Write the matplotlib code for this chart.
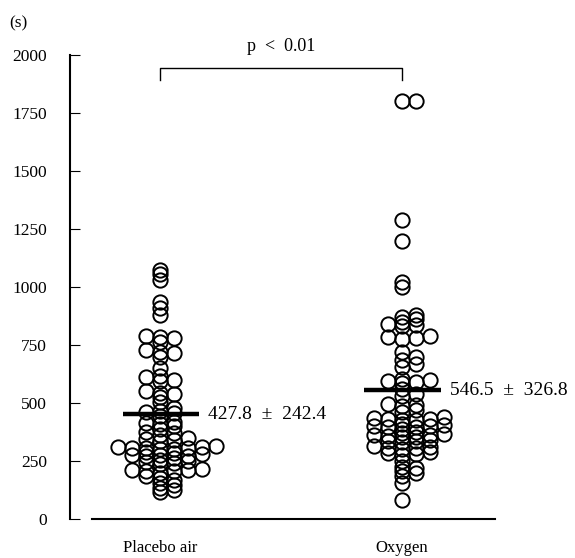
import matplotlib.pyplot as plt
import numpy as np

# Values (s)
groups = ['Placebo air', 'Oxygen']
placebo = [1075, 1055, 1030,
           935, 910, 880,
           790, 785, 780, 765,
           730, 720, 715, 700,
           650, 615, 610, 600, 595,
           550, 545, 540, 525, 505,
           480, 465, 460, 455, 445,
           420, 415, 410, 400, 390,
           375, 370, 360, 350, 345, 340, 335,
           315, 312, 310, 308, 305, 305, 303, 300,
           290, 285, 280, 278, 275, 272, 270, 265,
           255, 250, 245, 240, 235,
           215, 212, 210, 208, 205, 200,
           185, 178, 170,
           155, 145, 135, 125, 115]
oxygen = [1800, 1800,
          1290, 1200,
          1020, 1000,
          880, 870, 860, 850, 840, 835, 830,
          790, 785, 780, 775,
          720, 700, 685, 670, 655,
          605, 600, 595, 590, 585,
          560, 540, 530,
          495, 490, 485, 470, 460,
          440, 435, 432, 430, 428, 425,
          410, 405, 402, 400, 398, 395, 390,
          375, 370, 365, 362, 360, 358, 355, 352,
          340, 338, 335, 330,
          315, 310, 308, 305, 300,
          290, 285, 280, 275,
          250, 225, 220, 205, 200,
          185, 155, 80]
mean_line = [452, 556]
mean_text = ['427.8  \u00b1  242.4', '546.5  \u00b1  326.8']
p_text = 'p  <  0.01'


def swarm(values, px_per_y=0.232, px_per_x=242.0, step=14.0, gap=4.0):
    # simple beeswarm: slots 0, +1, -1, +2, -2 ... step px apart
    placed = {}
    seq = [0]
    for n in range(1, 10):
        seq += [n, -n]
    out = np.zeros(len(values))
    for i in np.argsort(values):
        y = values[i] * px_per_y
        for k in seq:
            if all(abs(y - yy) >= gap for yy in placed.get(k, [])):
                break
        placed.setdefault(k, []).append(y)
        out[i] = k * step / px_per_x
    return out


plt.rcParams['font.family'] = ['Liberation Serif', 'DejaVu Serif']
fig = plt.figure(figsize=(5.75, 5.58), dpi=100)
ax = fig.add_axes([70 / 575, 39 / 558, 505 / 575, 464 / 558])

for i, vals in enumerate([placebo, oxygen]):
    off = swarm(vals)
    ax.plot(i + off, vals, 'o', ms=10.3, mfc='none', mec='black', mew=1.4,
            linestyle='none', clip_on=False)
    ax.plot([i - 0.155, i + 0.16], [mean_line[i]] * 2, color='black', lw=3.2,
            solid_capstyle='butt')
    ax.text(i + 0.198, mean_line[i], mean_text[i], fontsize=14,
            va='center', ha='left')

# significance bracket
ax.plot([0, 0, 1, 1], [1892, 1944, 1944, 1892], color='black', lw=1,
        clip_on=False)
ax.text(0.5, 1998, p_text, ha='center', va='bottom', fontsize=13)

ax.text(-0.372 - 0.25, 2100, '(s)', ha='left', va='bottom', fontsize=12.5)

ax.set_ylim(0, 2000)
ax.set_xlim(-0.372, 1.715)
ax.set_yticks(np.arange(0, 2001, 250))
ax.set_xticks([0, 1])
ax.set_xticklabels(groups)
ax.tick_params(axis='y', direction='in', length=7, labelsize=12.5, pad=16.5)
ax.tick_params(axis='x', length=0, labelsize=12, pad=15)
ax.spines['top'].set_visible(False)
ax.spines['right'].set_visible(False)
ax.spines['bottom'].set_bounds(-0.281, 1.384)
ax.spines['bottom'].set_linewidth(1.5)
ax.spines['left'].set_linewidth(1.5)

fig.savefig('out.png', dpi=100)
